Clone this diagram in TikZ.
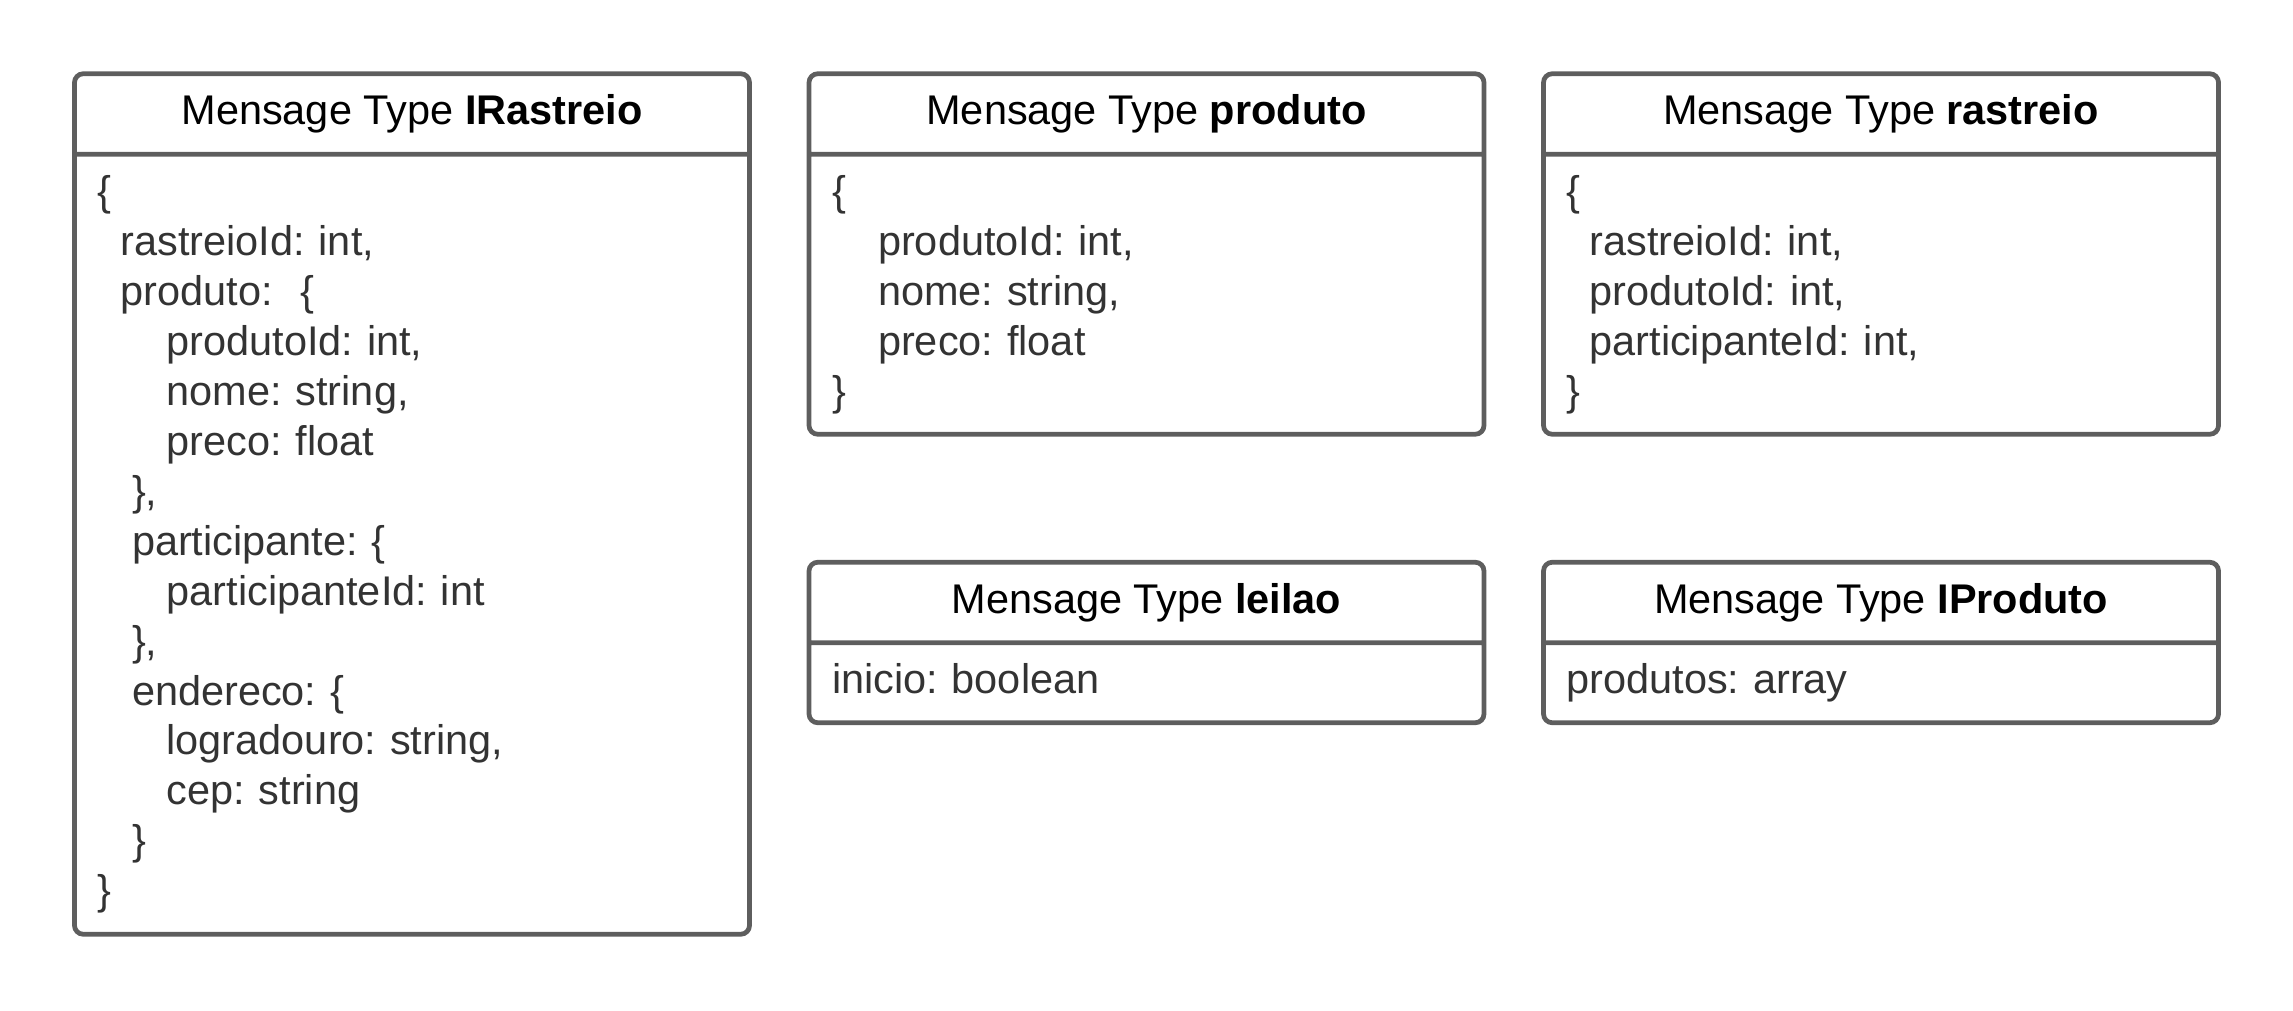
\documentclass[tikz,border=0pt]{standalone}
\usepackage{fontspec}
\setmainfont{Liberation Sans}
\usetikzlibrary{positioning}
\definecolor{framegray}{HTML}{5E5E5E}
\definecolor{fieldgray}{HTML}{333333}
\newcommand{\indt}[1]{\hspace*{#1\fontdimen2\font}}
\newcommand{\ls}{\rule[-3.95pt]{0pt}{14.2pt}}
\frenchspacing

\begin{document}
\begin{tikzpicture}[auto, node distance=0.595cm,
	type node/.style={minimum width=6.75cm, minimum height=0.805cm, inner sep=0pt, outer sep=0pt,
		font=\fontsize{11.8pt}{14.2pt}\selectfont},
	field node/.style={text width=6.29cm, inner xsep=0.23cm, inner ysep=0pt, outer sep=0pt,
		align=left, text=fieldgray, font=\fontsize{11.8pt}{14.2pt}\selectfont\frenchspacing},
	frame/.style={draw=framegray, line width=1.35pt, rounded corners=2.5pt}]
	
	\useasboundingbox (0,0) rectangle (22.93,-10.11);
	
	\node[type node] (t1) at (4.12,-1.14) {Mensage Type \textbf{IRastreio}};
	\node[field node, minimum height=7.80cm] (f1) [below=0pt of t1] {\ls\{\\
		\indt{2}rastreioId: int,\\
		\indt{2}produto:\ \ \{\\
		\indt{6}produtoId: int,\\
		\indt{6}nome: string,\\
		\indt{6}preco: float\\
		\indt{3}\},\\
		\indt{3}participante: \{\\
		\indt{6}participanteId: int\\
		\indt{3}\},\\
		\indt{3}endereco: \{\\
		\indt{6}logradouro: string,\\
		\indt{6}cep: string\\
		\indt{3}\}\\
		\}\ls};
	
	\node[type node] (t2) [right=of t1] {Mensage Type \textbf{produto}};
	\node[field node, minimum height=2.80cm] (f2) [below=0pt of t2] {\ls\{\\
		\indt{4}produtoId: int,\\
		\indt{4}nome: string,\\
		\indt{4}preco: float\\
		\}\ls};
	
	\node[type node] (t3) [right=of t2] {Mensage Type \textbf{rastreio}};
	\node[field node, minimum height=2.80cm] (f3) [below=0pt of t3] {\ls\{\\
		\indt{2}rastreioId: int,\\
		\indt{2}produtoId: int,\\
		\indt{2}participanteId: int,\\
		\}\ls};
	
	\node[type node] (t4) [below=1.28cm of f2] {Mensage Type \textbf{leilao}};
	\node[field node, minimum height=0.80cm] (f4) [below=0pt of t4] {\ls inicio: boolean\ls};
	
	\node[type node] (t5) [right=of t4] {Mensage Type \textbf{IProduto}};
	\node[field node, minimum height=0.80cm] (f5) [below=0pt of t5] {\ls produtos: array\ls};
	
	\draw[frame] (t1.north west) rectangle (f1.south east) (t1.south west) -- (t1.south east);
	\draw[frame] (t2.north west) rectangle (f2.south east) (t2.south west) -- (t2.south east);
	\draw[frame] (t3.north west) rectangle (f3.south east) (t3.south west) -- (t3.south east);
	\draw[frame] (t4.north west) rectangle (f4.south east) (t4.south west) -- (t4.south east);
	\draw[frame] (t5.north west) rectangle (f5.south east) (t5.south west) -- (t5.south east);
\end{tikzpicture}
\end{document}
